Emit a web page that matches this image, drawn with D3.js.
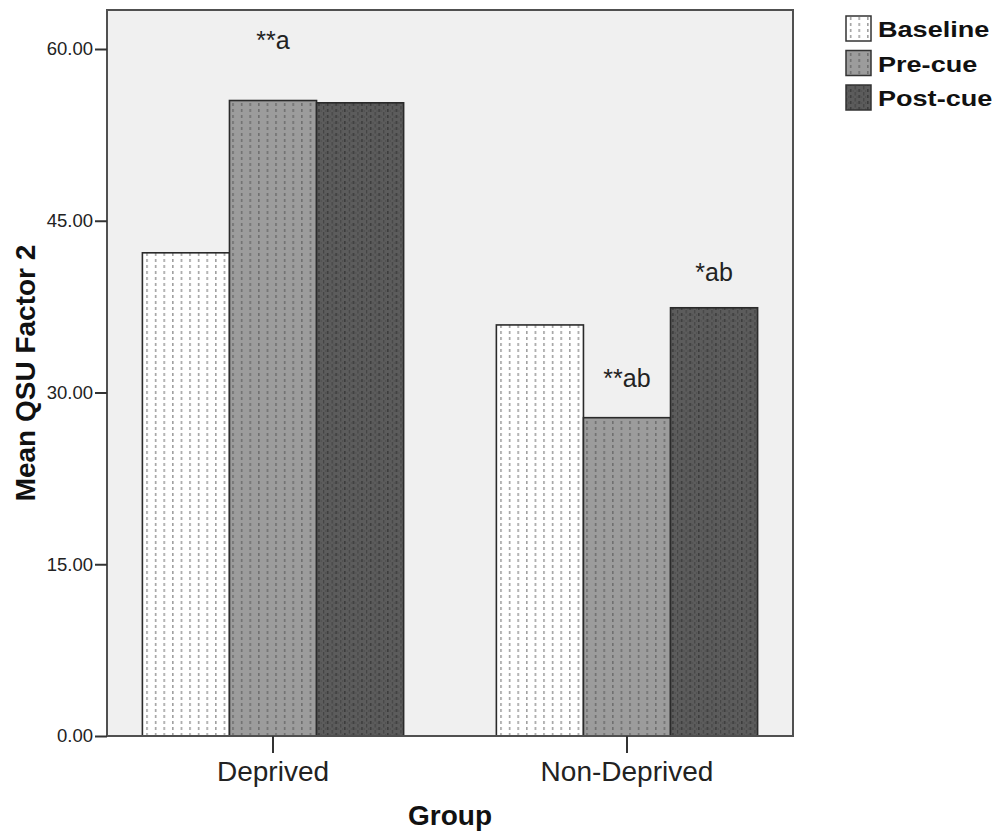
<!DOCTYPE html>
<html>
<head>
<meta charset="utf-8">
<script src="https://cdn.jsdelivr.net/npm/d3@7"></script>
<style>
  body { margin: 0; background: #fff; }
  text { font-family: "Liberation Sans", Arial, sans-serif; }
</style>
</head>
<body>
<script>
// data
let groups = ['Deprived', 'Non-Deprived'];
let conditions = ['Baseline', 'Pre-cue', 'Post-cue'];
let deprivedVals = [42.2, 55.5, 55.3];
let nonDeprivedVals = [35.9, 27.8, 37.4];
let yTicks = [0, 15, 30, 45, 60];
// significance notes: group, condition, y position (data units)
let noteGroup = ['Deprived', 'Non-Deprived', 'Non-Deprived'];
let noteCond = ['Pre-cue', 'Pre-cue', 'Post-cue'];
let noteText = ['**a', '**ab', '*ab'];
let noteY = [60.0, 30.5, 39.7];

let W = 999, H = 838;
let pLeft = 107, pRight = 793, pTop = 10, pBottom = 736;

let svg = d3.select('body').append('svg')
    .attr('width', W)
    .attr('height', H);

// hatch patterns
let defs = svg.append('defs');
function AddPattern(id, bg, dash, dash2) {
    let p = defs.append('pattern')
        .attr('id', id)
        .attr('patternUnits', 'userSpaceOnUse')
        .attr('width', 8.6)
        .attr('height', 6);
    p.append('rect').attr('width', 8.6).attr('height', 6).attr('fill', bg);
    p.append('rect').attr('x', 4).attr('y', 1).attr('width', 1.3).attr('height', 3).attr('fill', dash);
    if (dash2) {
        p.append('rect').attr('x', 0).attr('y', 0).attr('width', 1.2).attr('height', 1.5).attr('fill', dash2);
        p.append('rect').attr('x', 0).attr('y', 4).attr('width', 1.2).attr('height', 2).attr('fill', dash2);
        p.append('rect').attr('x', 2).attr('y', 2.5).attr('width', 1).attr('height', 1).attr('fill', dash2);
        p.append('rect').attr('x', 6.5).attr('y', 2.5).attr('width', 1).attr('height', 1).attr('fill', dash2);
    }
}
AddPattern('pBase', '#ffffff', '#8c8c8c');
AddPattern('pPre', '#9c9c9c', '#666666');
AddPattern('pPost', '#5c5c5c', '#353535', '#444444');
let fills = ['url(#pBase)', 'url(#pPre)', 'url(#pPost)'];

let x0 = d3.scaleBand()
    .domain(groups)
    .range([pLeft, pRight])
    .paddingInner(0.262)
    .paddingOuter(0.1);
let x1 = d3.scaleBand()
    .domain(conditions)
    .range([0, x0.bandwidth()]);
let y = d3.scaleLinear()
    .domain([0, 60])
    .range([pBottom, 49]);

// plot background
svg.append('rect')
    .attr('x', pLeft).attr('y', pTop)
    .attr('width', pRight - pLeft).attr('height', pBottom - pTop)
    .attr('fill', '#f0f0f0');

// bars
let rows = [deprivedVals, nonDeprivedVals];
groups.forEach(function(g, gi) {
    let gSel = svg.append('g').attr('transform', 'translate(' + x0(g) + ',0)');
    gSel.selectAll('rect')
        .data(conditions)
        .join('rect')
            .attr('x', d => x1(d))
            .attr('y', (d, i) => y(rows[gi][i]))
            .attr('width', x1.bandwidth())
            .attr('height', (d, i) => y(0) - y(rows[gi][i]))
            .attr('fill', (d, i) => fills[i])
            .attr('stroke', '#2a2a2a')
            .attr('stroke-width', 1.6);
});

// frame
svg.append('rect')
    .attr('x', pLeft).attr('y', pTop)
    .attr('width', pRight - pLeft).attr('height', pBottom - pTop)
    .attr('fill', 'none')
    .attr('stroke', '#505050')
    .attr('stroke-width', 2);

// y axis
let yAxis = svg.append('g')
    .attr('transform', 'translate(' + pLeft + ',0)')
    .call(d3.axisLeft(y).tickValues(yTicks).tickFormat(d3.format('.2f')).tickSize(12).tickPadding(2));
yAxis.select('.domain').remove();
yAxis.selectAll('line').attr('stroke', '#333').attr('stroke-width', 2);
yAxis.selectAll('text').attr('font-size', 18.5).attr('fill', '#222')
    .attr('font-family', '"Liberation Sans", Arial, sans-serif');

// x axis
let xAxis = svg.append('g')
    .attr('transform', 'translate(0,' + pBottom + ')')
    .call(d3.axisBottom(x0).tickSize(17).tickPadding(8));
xAxis.select('.domain').remove();
xAxis.selectAll('line').attr('stroke', '#333').attr('stroke-width', 2);
xAxis.selectAll('text').attr('font-size', 28).attr('fill', '#222')
    .attr('font-family', '"Liberation Sans", Arial, sans-serif');

// notes
svg.selectAll('.note')
    .data(noteText)
    .join('text')
        .attr('class', 'note')
        .attr('x', (d, i) => x0(noteGroup[i]) + x1(noteCond[i]) + x1.bandwidth() / 2)
        .attr('y', (d, i) => y(noteY[i]))
        .attr('text-anchor', 'middle')
        .attr('font-size', 25)
        .attr('fill', '#222')
        .text(d => d);

// axis titles
svg.append('text')
    .attr('transform', 'translate(35,' + ((pTop + pBottom) / 2) + ') rotate(-90)')
    .attr('text-anchor', 'middle')
    .attr('font-size', 28)
    .attr('font-weight', 'bold')
    .attr('fill', '#111')
    .text('Mean QSU Factor 2');
svg.append('text')
    .attr('x', (pLeft + pRight) / 2)
    .attr('y', 825)
    .attr('text-anchor', 'middle')
    .attr('font-size', 28)
    .attr('font-weight', 'bold')
    .attr('fill', '#111')
    .text('Group');

// legend
let leg = svg.append('g').attr('transform', 'translate(846,16)');
conditions.forEach(function(c, i) {
    leg.append('rect')
        .attr('x', 0).attr('y', i * 34.5)
        .attr('width', 25).attr('height', 25)
        .attr('fill', fills[i])
        .attr('stroke', '#333')
        .attr('stroke-width', 1.5);
    leg.append('text')
        .attr('transform', 'translate(32,' + (i * 34.5 + 21) + ') scale(1.23,1)')
        .attr('font-size', 22)
        .attr('font-weight', 'bold')
        .attr('fill', '#111')
        .text(c);
});
</script>
</body>
</html>
